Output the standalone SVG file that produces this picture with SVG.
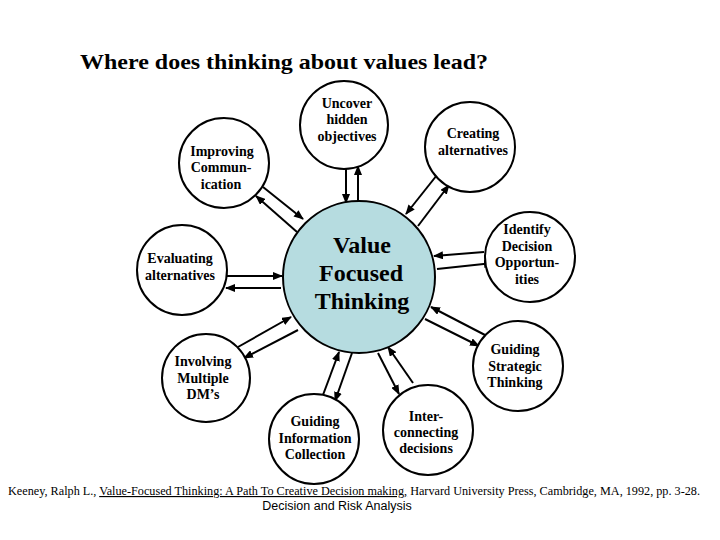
<svg xmlns="http://www.w3.org/2000/svg" width="720" height="540" viewBox="0 0 720 540">
<style>
.node{fill:#fff;stroke:#000;stroke-width:2}
.center{fill:#b6dce0;stroke:#000;stroke-width:2}
.lbl{font-family:"Liberation Serif","Times New Roman",serif;font-weight:bold;font-size:14px;text-anchor:middle;fill:#000}
.big{font-family:"Liberation Serif","Times New Roman",serif;font-weight:bold;font-size:24px;text-anchor:middle;fill:#000}
.conn line{stroke:#000;stroke-width:2;marker-end:url(#ah)}
</style>
<defs>
<marker id="ah" viewBox="0 0 10 8" refX="9" refY="4" markerWidth="10" markerHeight="8" markerUnits="userSpaceOnUse" orient="auto">
<path d="M0,0 L10,4 L0,8 z" fill="#000"/>
</marker>
</defs>
<rect width="720" height="540" fill="#fff"/>
<text x="80" y="69" font-family="'Liberation Serif','Times New Roman',serif" font-weight="bold" font-size="21" textLength="408" lengthAdjust="spacingAndGlyphs">Where does thinking about values lead?</text>

<g id="connectors" class="conn">
<line x1="346" y1="167" x2="346" y2="203"/>
<line x1="358" y1="204" x2="358" y2="166"/>
<line x1="263" y1="187" x2="303" y2="219"/>
<line x1="297" y1="232" x2="256" y2="196"/>
<line x1="437" y1="175" x2="406" y2="214"/>
<line x1="418" y1="226" x2="449" y2="185"/>
<line x1="484" y1="252" x2="434" y2="256"/>
<line x1="437" y1="269" x2="493" y2="263"/>
<line x1="227" y1="276" x2="282" y2="276"/>
<line x1="281" y1="288" x2="226" y2="288"/>
<line x1="485" y1="335" x2="431" y2="307"/>
<line x1="425" y1="319" x2="479" y2="346"/>
<line x1="238" y1="347" x2="291" y2="317"/>
<line x1="298" y1="330" x2="244" y2="358"/>
<line x1="323" y1="395" x2="339" y2="352"/>
<line x1="352" y1="353" x2="335" y2="401"/>
<line x1="378" y1="353" x2="399" y2="394"/>
<line x1="413" y1="383" x2="388" y2="347"/>
</g>

<g id="center-node">
<circle class="center" cx="359" cy="277" r="76"/>
<text class="big" x="362" y="253">Value</text>
<text class="big" x="361" y="281">Focused</text>
<text class="big" x="362" y="309">Thinking</text>
</g>

<g id="uncover">
<circle class="node" cx="344" cy="125" r="44"/>
<text class="lbl" x="347" y="108">Uncover</text>
<text class="lbl" x="347" y="124">hidden</text>
<text class="lbl" x="347" y="141">objectives</text>
</g>

<g id="creating">
<circle class="node" cx="470" cy="147" r="45"/>
<text class="lbl" x="473" y="138">Creating</text>
<text class="lbl" x="473" y="155">alternatives</text>
</g>

<g id="improving">
<circle class="node" cx="224" cy="163" r="45"/>
<text class="lbl" x="222" y="156">Improving</text>
<text class="lbl" x="221" y="172">Commun-</text>
<text class="lbl" x="221" y="189">ication</text>
</g>

<g id="evaluating">
<circle class="node" cx="182" cy="270" r="45"/>
<text class="lbl" x="180" y="263">Evaluating</text>
<text class="lbl" x="180" y="280">alternatives</text>
</g>

<g id="identify">
<circle class="node" cx="530" cy="257" r="45"/>
<text class="lbl" x="527" y="234">Identify</text>
<text class="lbl" x="527" y="251">Decision</text>
<text class="lbl" x="527" y="267">Opportun-</text>
<text class="lbl" x="527" y="284">ities</text>
</g>

<g id="strategic">
<circle class="node" cx="518" cy="366" r="45"/>
<text class="lbl" x="515" y="354">Guiding</text>
<text class="lbl" x="515" y="371">Strategic</text>
<text class="lbl" x="515" y="387">Thinking</text>
</g>

<g id="involving">
<circle class="node" cx="206" cy="378" r="44"/>
<text class="lbl" x="203" y="366">Involving</text>
<text class="lbl" x="203" y="383">Multiple</text>
<text class="lbl" x="203" y="399">DM’s</text>
</g>

<g id="information">
<circle class="node" cx="314" cy="439" r="45"/>
<text class="lbl" x="315" y="426">Guiding</text>
<text class="lbl" x="315" y="443">Information</text>
<text class="lbl" x="315" y="459">Collection</text>
</g>

<g id="interconnecting">
<circle class="node" cx="428" cy="430" r="45"/>
<text class="lbl" x="426" y="421">Inter-</text>
<text class="lbl" x="426" y="437">connecting</text>
<text class="lbl" x="426" y="453">decisions</text>
</g>

<g id="footer" fill="#000">
<text x="8" y="495" font-family="'Liberation Serif','Times New Roman',serif" font-size="11.5" textLength="692" lengthAdjust="spacingAndGlyphs">Keeney, Ralph L., <tspan text-decoration="underline">Value-Focused Thinking:  A Path To Creative Decision making,</tspan> Harvard University Press, Cambridge, MA, 1992, pp. 3-28.</text>
<text x="337" y="510" font-family="'Liberation Sans',Arial,sans-serif" font-size="12.5" text-anchor="middle">Decision and Risk Analysis</text>
</g>
</svg>
